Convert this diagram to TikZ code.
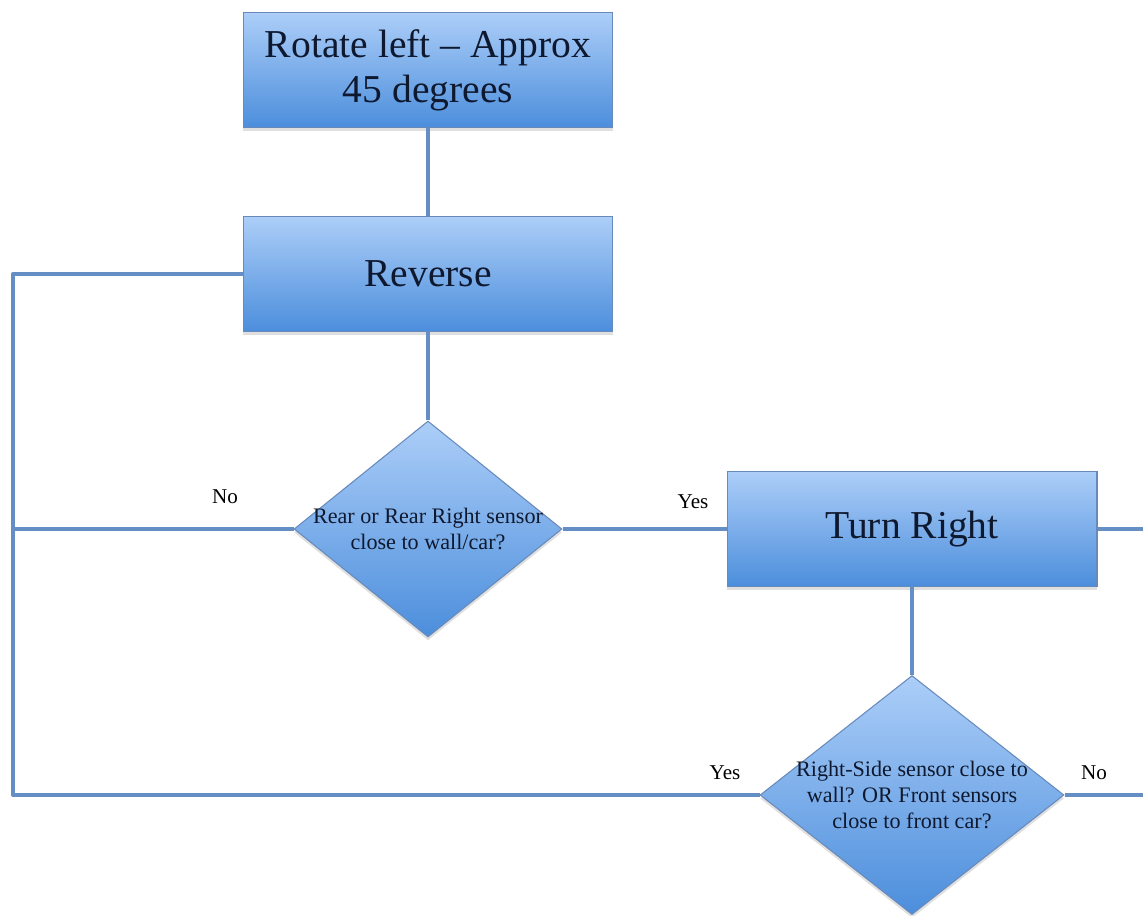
\documentclass[tikz,border=0pt]{standalone}
\usepackage{fontspec}
\setmainfont{Liberation Serif}
\usetikzlibrary{shapes.geometric}
\usetikzlibrary{shadows}
\definecolor{boxtop}{RGB}{172, 206, 248}
\definecolor{boxbottom}{RGB}{76, 142, 220}
\definecolor{edgeblue}{RGB}{104, 138, 186}
\definecolor{linkblue}{RGB}{100, 142, 196}
\definecolor{inkblue}{RGB}{14, 24, 46}
\tikzset{action/.style = {rectangle, draw = edgeblue, line width = 0.6pt,
                          top color = boxtop, bottom color = boxbottom,
                          minimum width = 7.4cm, minimum height = 2.3cm,
                          align = center, text = inkblue,
                          font = \fontsize{22.5}{25.5}\selectfont,
                          drop shadow = {opacity = 0.25, shadow xshift = 0pt, shadow yshift = -2pt}}}
\tikzset{decision/.style = {diamond, draw = edgeblue, line width = 0.6pt,
                            top color = boxtop, bottom color = boxbottom,
                            inner sep = -16pt, align = center, text = inkblue,
                            font = \fontsize{12.6}{14.9}\selectfont,
                            drop shadow = {opacity = 0.25, shadow xshift = 0pt, shadow yshift = -2pt}}}
\tikzset{link/.style = {draw = linkblue, line width = 2.3pt, line join = round}}
\tikzset{answer/.style = {font = \fontsize{12}{14}\selectfont}}

\begin{document}
\begin{tikzpicture}[x = 0.02cm, y = -0.02cm]
    \useasboundingbox (0, 0) rectangle (1143, 916);
    \node [action] (rotate) at (428, 70) {Rotate left -- Approx\\45 degrees};
    \node [action] (reverse) at (428, 274) {Reverse};
    \node [decision, minimum width = 5.36cm, minimum height = 4.32cm] (rearq) at (428, 529)
          {Rear or Rear Right sensor\\close to wall/car?};
    \node [action] (turnright) at (912, 529) {Turn Right};
    \node [decision, minimum width = 6.08cm, minimum height = 4.78cm] (sideq) at (912, 795)
          {Right-Side sensor close to\\wall? OR Front sensors\\close to front car?};
    \coordinate (lefttop) at (13, 274);
    \coordinate (leftbottom) at (13, 795);
    \coordinate (rightedge) at (1146, 529);
    \draw [link] (rotate) -- (reverse);
    \draw [link] (reverse) -- (rearq);
    \draw [link] (turnright) -- (sideq);
    \draw [link] (reverse.west) -- (lefttop) -- (leftbottom) -- (sideq.west);
    \draw [link] (rearq.west) -- (rearq.west -| lefttop);
    \draw [link] (rearq.east) -- (turnright.west);
    \draw [link] (turnright.east) -- (rightedge);
    \draw [link] (sideq.east) -- (sideq.east -| rightedge);
    \node [answer] (norear) at (225, 497) {No};
    \node [answer] (yesrear) at (693, 502) {Yes};
    \node [answer] (yesside) at (725, 773) {Yes};
    \node [answer] (noside) at (1094, 773) {No};
\end{tikzpicture}
\end{document}
